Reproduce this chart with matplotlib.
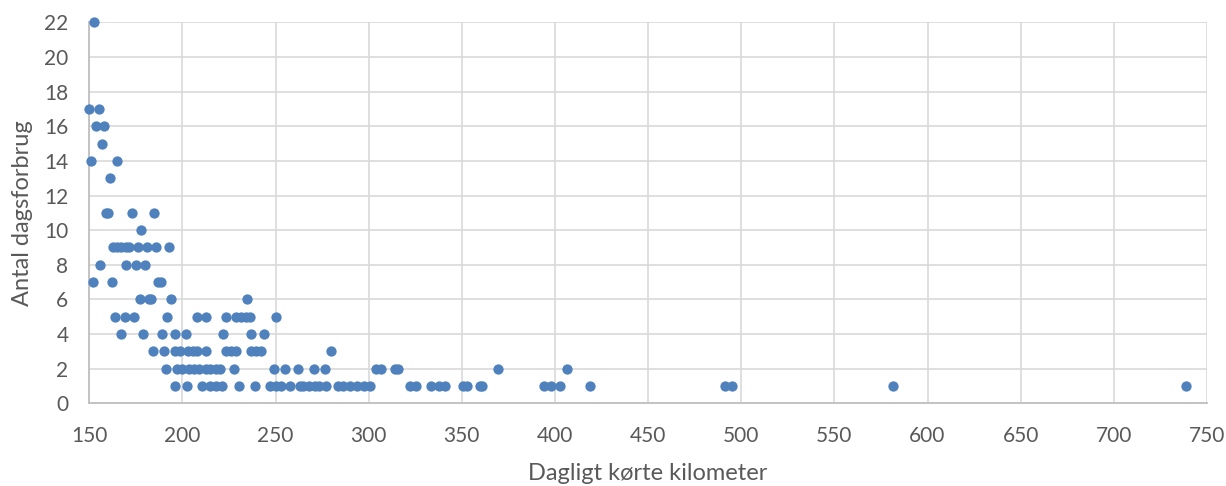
import matplotlib
matplotlib.use('Agg')
import matplotlib.pyplot as plt

# kilometers and number of days, grouped per y-level
km_22 = [152.7]
km_17 = [150, 155.2]
km_16 = [153.6, 157.9]
km_15 = [156.8]
km_14 = [150.9, 164.8]
km_13 = [161]
km_11 = [158.8, 160, 173, 184.9]
km_10 = [177.9]
km_9 = [163, 165, 167, 169.5, 171.5, 176, 181, 186, 193]
km_8 = [155.7, 169.7, 174.9, 179.9]
km_7 = [152, 162, 186.9, 188.3]
km_6 = [177, 182, 183.3, 194, 234.6]
km_5 = [163.8, 169, 174, 191.9, 208, 212.5, 223.6, 229, 231.5, 234, 236.5, 250.5]
km_4 = [167, 179, 189, 196, 202, 222, 236.6, 244]
km_3 = [184, 190, 196, 198.5, 203, 205.5, 208, 212.5, 223.5, 226, 229, 237,
        239.5, 242, 280]
km_2 = [191, 197, 200, 203.5, 206, 209, 212.5, 215, 218, 220, 227.8, 249, 255,
        262, 270.5, 276.6, 304, 306.5, 314, 316, 369.4, 406.2]
km_1 = [196, 202.3, 210.3, 215, 218, 221.5, 230.5, 239, 247, 250, 253, 257.5,
        262.9, 264.5, 268, 271, 273.5, 277, 283.5, 286, 290, 293.5, 297.5, 300.5,
        322, 325.5, 333.5, 338, 341, 350.5, 353, 359.5, 361, 394, 398, 402.5,
        419, 491.2, 494.9, 581.7, 738.7]

groups = {22: km_22, 17: km_17, 16: km_16, 15: km_15, 14: km_14, 13: km_13,
          11: km_11, 10: km_10, 9: km_9, 8: km_8, 7: km_7, 6: km_6, 5: km_5,
          4: km_4, 3: km_3, 2: km_2, 1: km_1}

x = []
y = []
for days, kms in groups.items():
    x += kms
    y += [days] * len(kms)

plt.rcParams['font.family'] = ['Lato', 'DejaVu Sans']

fig = plt.figure(figsize=(12.26, 4.86), dpi=100)
ax = fig.add_axes([0.0728, 0.1702, 0.9117, 0.7838])

ax.scatter(x, y, s=55, color='#4F81BD', zorder=3, linewidths=0, clip_on=False)

ax.set_xlim(150, 750)
ax.set_ylim(0, 22)
ax.set_xticks(range(150, 751, 50))
ax.set_yticks(range(0, 23, 2))
ax.grid(True, color='#D9D9D9', linewidth=1.2, zorder=0)
ax.set_axisbelow(True)

for s in ['top', 'right']:
    ax.spines[s].set_visible(False)
for s in ['left', 'bottom']:
    ax.spines[s].set_color('#BFBFBF')
    ax.spines[s].set_linewidth(1.3)

ax.tick_params(length=0, labelsize=15, colors='#595959')
ax.tick_params(axis='x', pad=16)
ax.tick_params(axis='y', pad=15)
ax.set_xlabel('Dagligt kørte kilometer', fontsize=17, color='#595959')
ax.set_ylabel('Antal dagsforbrug', fontsize=17, color='#595959')
ax.xaxis.set_label_coords(0.5, -0.156)
ax.yaxis.set_label_coords(-0.050, 0.5)

fig.savefig('out.png', dpi=100)
